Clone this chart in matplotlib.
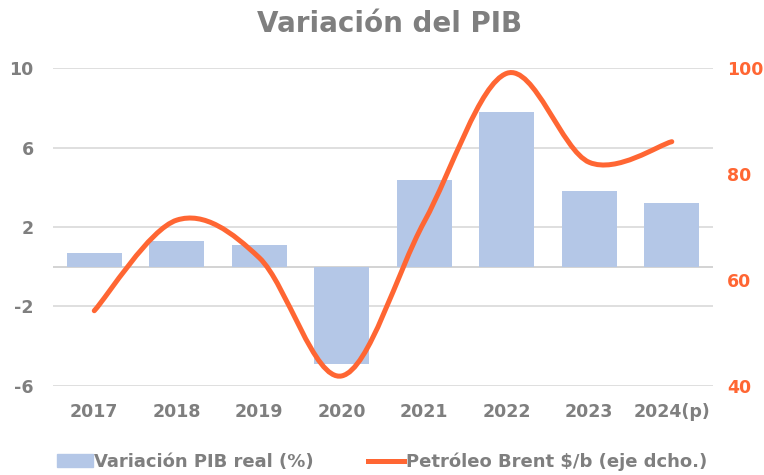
import matplotlib
matplotlib.use('Agg')
import matplotlib.pyplot as plt
from matplotlib.path import Path
from matplotlib.patches import PathPatch
from matplotlib.lines import Line2D
from matplotlib.patches import Patch

# datos
years = ['2017', '2018', '2019', '2020', '2021', '2022', '2023', '2024(p)']
pib = [0.7, 1.3, 1.1, -4.9, 4.35, 7.8, 3.8, 3.2]
brent = [54.2, 71.3, 64.2, 41.9, 71.0, 99.0, 82.2, 86.1]

GRIS = '#7f7f7f'
AZUL = '#b4c7e7'
NARANJA = '#ff6633'

plt.rcParams['font.family'] = ['DejaVu Sans']
plt.rcParams['axes.unicode_minus'] = False


def smooth_path(xs, ys):
    # curva suavizada tipo Excel (bezier con tangentes de Catmull-Rom)
    n = len(xs)
    verts = [(xs[0], ys[0])]
    codes = [Path.MOVETO]
    for i in range(n - 1):
        x0, y0 = (xs[i - 1], ys[i - 1]) if i > 0 else (xs[i], ys[i])
        x1, y1 = xs[i], ys[i]
        x2, y2 = xs[i + 1], ys[i + 1]
        x3, y3 = (xs[i + 2], ys[i + 2]) if i + 2 < n else (x2, y2)
        c1 = (x1 + (x2 - x0) / 6, y1 + (y2 - y0) / 6)
        c2 = (x2 - (x3 - x1) / 6, y2 - (y3 - y1) / 6)
        verts += [c1, c2, (x2, y2)]
        codes += [Path.CURVE4] * 3
    return Path(verts, codes)


fig = plt.figure(figsize=(7.64, 4.75), dpi=100)
ax = fig.add_axes([0.0694, 0.1874, 0.8639, 0.6694])
x = list(range(len(years)))
ax.bar(x, pib, width=0.667, color=AZUL, zorder=2)
ax.set_xlim(-0.5, len(years) - 0.5)
ax.set_ylim(-6, 10)
ax.set_yticks([-6, -2, 2, 6, 10])
ax.set_xticks(x)
ax.set_xticklabels(years)
ax.grid(axis='y', color='#d9d9d9', linewidth=1.2, zorder=0)
ax.axhline(0, color='#d0d0d0', linewidth=1.3, zorder=1)
for s in ax.spines.values():
    s.set_visible(False)
ax.tick_params(length=0, labelsize=12.5, labelcolor=GRIS)
ax.tick_params(axis='x', pad=12)
ax.tick_params(axis='y', pad=14)
for t in ax.get_xticklabels() + ax.get_yticklabels():
    t.set_fontweight('bold')

ax2 = ax.twinx()
ax2.set_ylim(40, 100)
ax2.set_yticks([40, 60, 80, 100])
for s in ax2.spines.values():
    s.set_visible(False)
ax2.tick_params(length=0, labelsize=12.5, labelcolor=NARANJA, pad=10)
for t in ax2.get_yticklabels():
    t.set_fontweight('bold')
ax2.add_patch(PathPatch(smooth_path(x, brent), facecolor='none', edgecolor=NARANJA,
                        linewidth=3.6, capstyle='round', zorder=3))

fig.text(0.51, 0.95, 'Variación del PIB', ha='center', va='center',
         fontsize=20, fontweight='bold', color=GRIS)

handles = [Patch(color=AZUL), Line2D([0], [0], color=NARANJA, linewidth=3.6)]
labels = ['Variación PIB real (%)', 'Petróleo Brent $/b (eje dcho.)']
leg = fig.legend(handles, labels, loc='center', bbox_to_anchor=(0.5, 0.028), ncol=2,
                 frameon=False, handlelength=2.0, handletextpad=0.1, columnspacing=3.0,
                 prop={'weight': 'bold', 'size': 13})
for t in leg.get_texts():
    t.set_color(GRIS)

plt.savefig('out.png', dpi=100)
plt.close()
